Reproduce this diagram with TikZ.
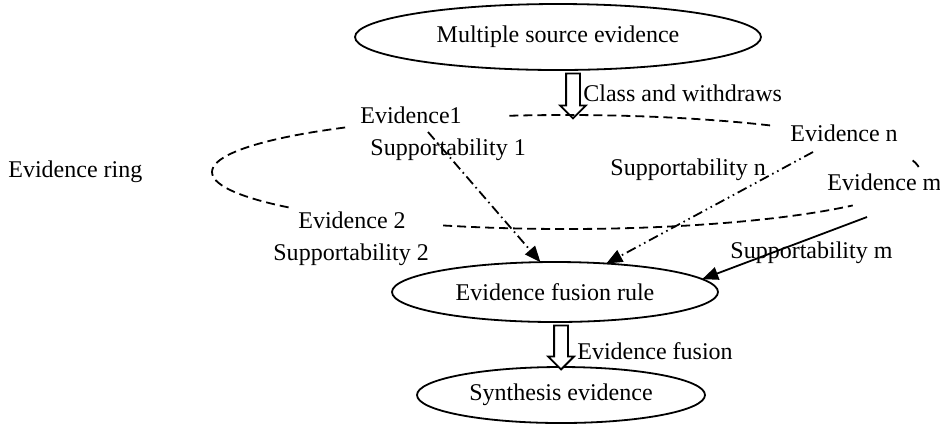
\documentclass[tikz,border=0pt]{standalone}
\usepackage{fontspec}
\setmainfont{Liberation Serif}
\usetikzlibrary{arrows.meta, positioning, shapes.geometric, shapes.arrows}

\begin{document}
\begin{tikzpicture}[x=0.5pt, y=-0.5pt, font=\fontsize{12pt}{14pt}\selectfont,
  stage/.style={draw, ellipse, line width=0.9pt, inner sep=0pt, outer sep=0pt},
  lbl/.style={anchor=west, inner sep=0pt},
  hollow/.style={draw, single arrow, rotate=-90, line width=0.9pt, inner sep=3pt,
    single arrow head extend=3pt, fill=white},
  tip/.style={-{Triangle[length=8pt,width=6.5pt]}, line width=0.9pt},
  ring/.style={line width=0.9pt, dash pattern=on 4.5pt off 2.5pt}]
  \useasboundingbox (0,0) rectangle (940,425);

  % Stages
  \node[stage, minimum width=203pt, minimum height=33pt] (source) at (558,37) {Multiple source evidence};
  \node[stage, minimum width=163pt, minimum height=30pt] (fusion) at (555,292) {Evidence fusion rule};
  \node[stage, minimum width=144pt, minimum height=28pt] (synth) at (561,395) {Synthesis evidence};

  % Block arrows
  \node[hollow, minimum height=22.5pt] (classarrow) at (573,92.5) {};
  \node[lbl] (classlbl) at (583,93) {Class and withdraws};
  \node[hollow, minimum height=22pt] (fusearrow) at (561,344) {};
  \node[lbl] (fuselbl) at (577,351) {Evidence fusion};

  % Evidence ring (dashed, broken by the labels)
  \draw[ring, domain=128.6:218.8, samples=40, variable=\t] plot ({566+354*cos(\t)},{172-57*sin(\t)});
  \draw[ring, domain=249.7:324.1, samples=40, variable=\t] plot ({566+354*cos(\t)},{172-57*sin(\t)});
  \draw[ring, domain=54.8:99.9, samples=40, variable=\t] plot ({566+354*cos(\t)},{172-57*sin(\t)});
  \draw[ring, domain=5:12, samples=10, variable=\t] plot ({566+354*cos(\t)},{172-57*sin(\t)});
  \node[lbl] (ringlbl) at (8,172) {Evidence ring};

  % Evidences and supportabilities
  \node[lbl] (ev1) at (360,115) {Evidence1};
  \node[lbl] (sup1) at (370,150) {Supportability 1};
  \node[lbl] (ev2) at (298,220) {Evidence 2};
  \node[lbl] (sup2) at (273,255) {Supportability 2};
  \node[lbl] (evn) at (790,133) {Evidence n};
  \node[lbl] (supn) at (610,170) {Supportability n};
  \node[lbl] (evm) at (827,182) {Evidence m};
  \node[lbl] (supm) at (730,253) {Supportability m};

  % Arrows into the fusion rule
  \coordinate (ev1tail) at (428,132);
  \coordinate (evntail) at (813,152);
  \coordinate (evmtail) at (867,217);
  \draw[tip, dash pattern=on 5pt off 2pt on 0.8pt off 2pt] (ev1tail) -- (fusion.116);
  \draw[tip, dash pattern=on 5pt off 2pt on 0.8pt off 2pt on 0.8pt off 2pt] (evntail) -- (fusion.29);
  \draw[tip] (evmtail) -- (fusion.5);
\end{tikzpicture}
\end{document}
